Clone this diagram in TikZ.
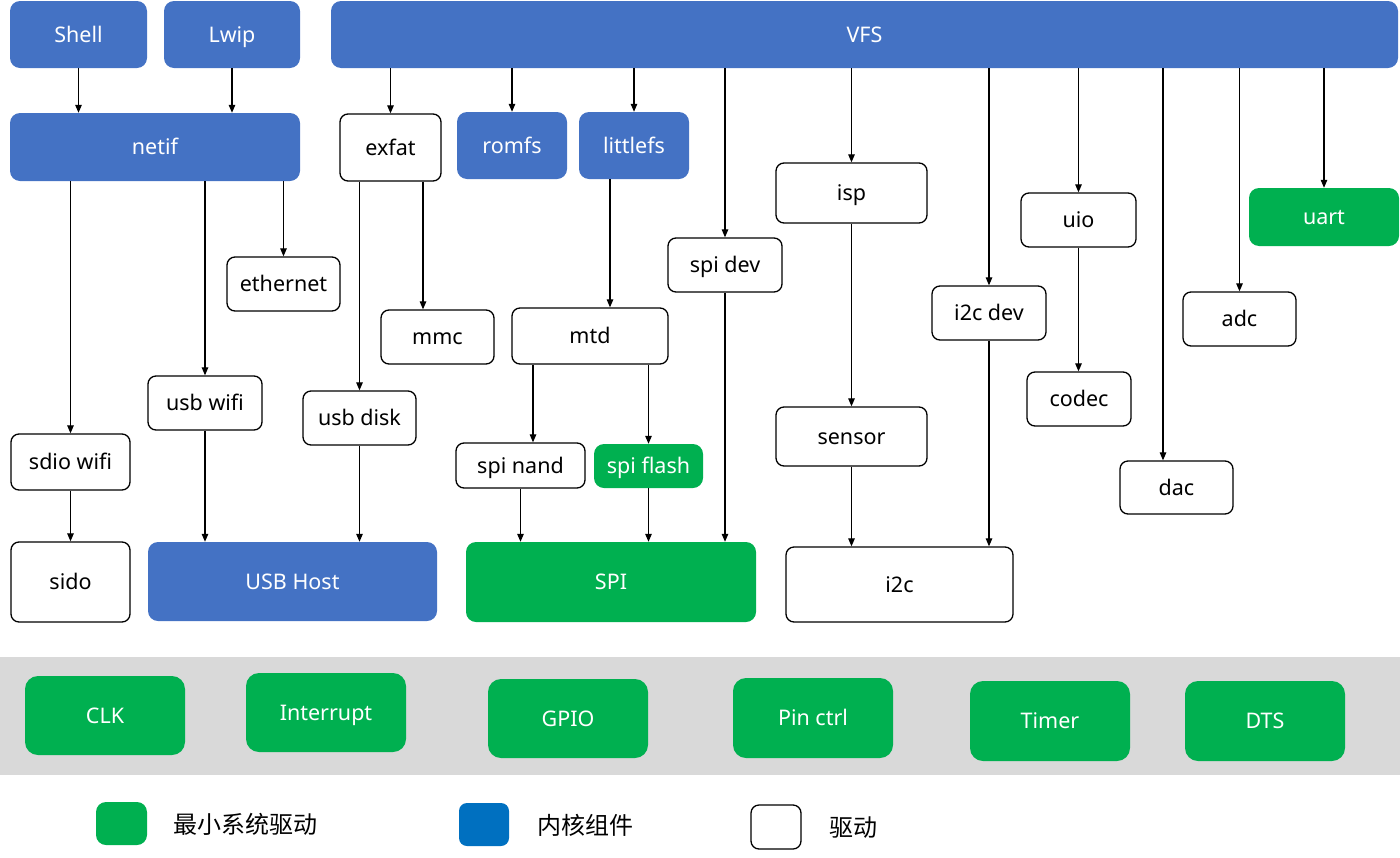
\documentclass[tikz,border=0pt]{standalone}
\usepackage{fontspec}
\setmainfont{Noto Sans}
\newfontfamily\cjk{Noto Sans CJK SC}
\usetikzlibrary{arrows.meta}
\definecolor{kblue}{HTML}{4472C4}
\definecolor{kgreen}{HTML}{00B050}
\definecolor{lblue}{HTML}{0070C0}
\definecolor{bandgray}{HTML}{D9D9D9}
\tikzset{
 base/.style={rounded corners=10pt, inner sep=0pt, text height=15.4pt, text depth=0pt, font=\fontsize{21.5}{25}\selectfont},
 bluebox/.style={base, fill=kblue, text=white},
 greenbox/.style={base, fill=kgreen, text=white},
 whitebox/.style={base, draw=black, line width=1.3pt, fill=white, text=black, rounded corners=8pt},
 basegreen/.style={greenbox, rounded corners=13pt},
 legendtext/.style={anchor=west, inner sep=0pt, font=\cjk\fontsize{24}{27}\selectfont},
 arr/.style={-{Triangle[length=8pt,width=6.5pt]}, line width=1.2pt},
}
\newcommand\bx[7]{\node[#6, minimum width=#4-#2, minimum height=#5-#3] (#1) at ({(#2+#4)/2},{(#3+#5)/2}) {#7};}
\begin{document}
\begin{tikzpicture}[x=1pt,y=-1pt]
\useasboundingbox (0,0) rectangle (1400,857);
% top level
\bx{shell}{10}{1}{147}{68}{bluebox}{Shell}
\bx{lwip}{164}{1}{300}{68}{bluebox}{Lwip}
\bx{vfs}{331}{1}{1398}{68}{bluebox}{VFS}
\bx{netif}{10}{113}{300}{181}{bluebox}{netif}
\bx{exfat}{340}{114}{441}{181}{whitebox}{exfat}
\bx{romfs}{457}{112}{567}{179}{bluebox}{romfs}
\bx{littlefs}{579}{112}{689}{179}{bluebox}{littlefs}
\bx{isp}{776}{163}{927}{223}{whitebox}{isp}
\bx{uio}{1021}{193}{1136}{247}{whitebox}{uio}
\bx{uart}{1249}{188}{1399}{246}{greenbox}{uart}
\bx{ethernet}{227}{257}{340}{311}{whitebox}{ethernet}
\bx{spidev}{668}{238}{782}{292}{whitebox}{spi dev}
\bx{i2cdev}{932}{286}{1046}{340}{whitebox}{i2c dev}
\bx{adc}{1183}{292}{1296}{346}{whitebox}{adc}
\bx{mmc}{381}{310}{494}{364}{whitebox}{mmc}
\bx{mtd}{512}{308}{668}{364}{whitebox}{mtd}
\bx{usbwifi}{148}{376}{262}{430}{whitebox}{usb wifi}
\bx{usbdisk}{303}{391}{416}{445}{whitebox}{usb disk}
\bx{codec}{1027}{372}{1131}{426}{whitebox}{codec}
\bx{sensor}{776}{407}{927}{466}{whitebox}{sensor}
\bx{spinand}{456}{443}{585}{488}{whitebox}{spi nand}
\bx{spiflash}{594}{444}{703}{488}{greenbox}{spi flash}
\bx{sdiowifi}{11}{434}{130}{490}{whitebox}{sdio wifi}
\bx{dac}{1120}{461}{1233}{514}{whitebox}{dac}
\bx{sido}{11}{542}{130}{622}{whitebox}{sido}
\bx{usbhost}{148}{542}{437}{621}{bluebox}{USB Host}
\bx{spi}{466}{542}{756}{622}{greenbox}{SPI}
\bx{i2c}{786}{547}{1013}{622}{whitebox}{i2c}
% base band
\node[fill=bandgray, inner sep=0pt, minimum width=1400, minimum height=118] (band) at (700,716) {};
\bx{clk}{25}{676}{185}{755}{basegreen}{CLK}
\bx{interrupt}{246}{673}{406}{752}{basegreen}{Interrupt}
\bx{gpio}{488}{679}{648}{758}{basegreen}{GPIO}
\bx{pinctrl}{733}{678}{893}{758}{basegreen}{Pin ctrl}
\bx{timer}{970}{681}{1130}{761}{basegreen}{Timer}
\bx{dts}{1185}{681}{1345}{761}{basegreen}{DTS}
% legend
\bx{lgreen}{96}{802}{147}{845}{greenbox}{}
\node[fill=lblue, rounded corners=8pt, inner sep=0pt, minimum width=50, minimum height=43] (lblue) at (484,824.5) {};
\bx{lwhite}{751}{805}{801}{849}{whitebox}{}
\node[legendtext] (lgt) at (173,824) {最小系统驱动};
\node[legendtext] (lbt) at (537,825) {内核组件};
\node[legendtext] (lwt) at (829,828) {驱动};
% arrows
\draw[arr] (shell.south) -- (shell.south |- netif.north);
\draw[arr] (lwip.south) -- (lwip.south |- netif.north);
\draw[arr] (vfs.south -| exfat.north) -- (exfat.north);
\draw[arr] (vfs.south -| romfs.north) -- (romfs.north);
\draw[arr] (vfs.south -| littlefs.north) -- (littlefs.north);
\draw[arr] (vfs.south -| spidev.north) -- (spidev.north);
\draw[arr] (vfs.south -| isp.north) -- (isp.north);
\draw[arr] (vfs.south -| i2cdev.north) -- (i2cdev.north);
\draw[arr] (vfs.south -| uio.north) -- (uio.north);
\draw[arr] (vfs.south -| 1163,0) -- (dac.north -| 1163,0);
\draw[arr] (vfs.south -| adc.north) -- (adc.north);
\draw[arr] (vfs.south -| uart.north) -- (uart.north);
\draw[arr] (netif.south -| sdiowifi.north) -- (sdiowifi.north);
\draw[arr] (netif.south -| usbwifi.north) -- (usbwifi.north);
\draw[arr] (netif.south -| ethernet.north) -- (ethernet.north);
\draw[arr] (exfat.south -| usbdisk.north) -- (usbdisk.north);
\draw[arr] (exfat.south -| 423,0) -- (mmc.north -| 423,0);
\draw[arr] (littlefs.south -| 610,0) -- (mtd.north -| 610,0);
\draw[arr] (spidev.south) -- (spidev.south |- spi.north);
\draw[arr] (mtd.south -| 533,0) -- (spinand.north -| 533,0);
\draw[arr] (mtd.south -| spiflash.north) -- (spiflash.north);
\draw[arr] (spinand.south) -- (spinand.south |- spi.north);
\draw[arr] (spiflash.south) -- (spiflash.south |- spi.north);
\draw[arr] (isp.south) -- (sensor.north);
\draw[arr] (sensor.south) -- (sensor.south |- i2c.north);
\draw[arr] (i2cdev.south) -- (i2cdev.south |- i2c.north);
\draw[arr] (uio.south) -- (uio.south |- codec.north);
\draw[arr] (sdiowifi.south) -- (sido.north);
\draw[arr] (usbwifi.south) -- (usbwifi.south |- usbhost.north);
\draw[arr] (usbdisk.south) -- (usbdisk.south |- usbhost.north);
\end{tikzpicture}
\end{document}
